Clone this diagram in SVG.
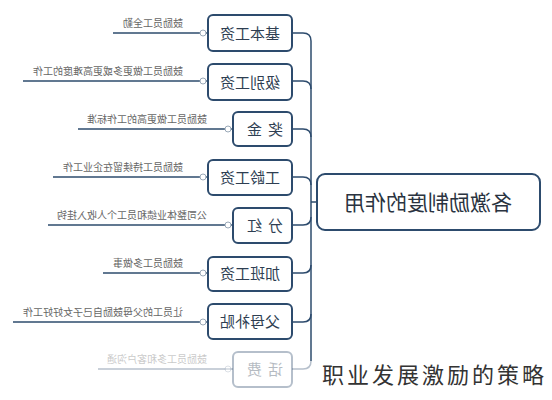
<svg xmlns="http://www.w3.org/2000/svg" width="552" height="400" viewBox="0 0 552 400">
<style>
.box{fill:#fff;stroke:#2d4b6d;stroke-width:2}
.bt{font-family:"Noto Sans CJK SC","Noto Sans",sans-serif;font-size:15px;fill:#2e3e52;text-anchor:middle}
.lt{font-family:"Noto Sans CJK SC","Noto Sans",sans-serif;font-size:10px;fill:#666}
.ln{fill:none;stroke:#2d4b6d;stroke-width:1.5}
.dot{fill:#fff;stroke:#9aa9b8;stroke-width:1}
.mt{font-family:"Noto Sans CJK SC","Noto Sans",sans-serif;font-size:21px;fill:#2a3340;text-anchor:middle}
.cap{font-family:"Noto Sans CJK SC","Noto Sans",sans-serif;font-size:22px;fill:#333;letter-spacing:3px}
</style>
<rect width="552" height="400" fill="#fff"/>
<g id="connectors">
<path class="ln" d="M311,41 V361"/>
<path class="ln" d="M311,202 H317"/>
<path class="ln" d="M292,33 H303 Q311,33 311,41"/>
<path class="ln" d="M292,81 H303 Q311,81 311,89"/>
<path class="ln" d="M292,129 H303 Q311,129 311,137"/>
<path class="ln" d="M292,177 H303 Q311,177 311,185"/>
<path class="ln" d="M292,225 H303 Q311,225 311,217"/>
<path class="ln" d="M292,273 H303 Q311,273 311,265"/>
<path class="ln" d="M292,322 H303 Q311,322 311,314"/>
<path class="ln" d="M292,369 H303 Q311,369 311,361" opacity="0.35"/>
<path class="ln" d="M113,33 H208"/>
<path class="ln" d="M23,81 H208"/>
<path class="ln" d="M78,129 H233"/>
<path class="ln" d="M53,177 H208"/>
<path class="ln" d="M48,225 H233"/>
<path class="ln" d="M103,273 H208"/>
<path class="ln" d="M13,322 H208"/>
<path class="ln" d="M98,369 H233" opacity="0.35"/>
<circle class="dot" cx="203" cy="33" r="3"/>
<circle class="dot" cx="203" cy="81" r="3"/>
<circle class="dot" cx="228" cy="129" r="3"/>
<circle class="dot" cx="203" cy="177" r="3"/>
<circle class="dot" cx="228" cy="225" r="3"/>
<circle class="dot" cx="203" cy="273" r="3"/>
<circle class="dot" cx="203" cy="322" r="3"/>
<circle class="dot" cx="228" cy="369" r="3" opacity="0.35"/>
</g>
<g id="main">
<rect class="box" x="317" y="174" width="223" height="56" rx="8"/>
<text class="mt" transform="translate(428,210) scale(-1,1)">各激励制度的作用</text>
</g>
<g id="n1">
<rect class="box" x="208" y="15" width="84" height="36" rx="5"/>
<text class="bt" transform="translate(250,38.5) scale(-1,1)">基本工资</text>
<text class="lt" transform="translate(183,27) scale(-1,1)">鼓励员工全勤</text>
</g>
<g id="n2">
<rect class="box" x="208" y="64" width="84" height="36" rx="5"/>
<text class="bt" transform="translate(250,87.5) scale(-1,1)">级别工资</text>
<text class="lt" transform="translate(183,75) scale(-1,1)">鼓励员工做更多或更高难度的工作</text>
</g>
<g id="n3">
<rect class="box" x="233" y="112" width="59" height="34" rx="5"/>
<text class="bt" transform="translate(262,134.5) scale(-1,1)" letter-spacing="6">奖金</text>
<text class="lt" transform="translate(207,123) scale(-1,1)">鼓励员工做更高的工作标准</text>
</g>
<g id="n4">
<rect class="box" x="208" y="160" width="84" height="35" rx="5"/>
<text class="bt" transform="translate(250,183) scale(-1,1)">工龄工资</text>
<text class="lt" transform="translate(183,171) scale(-1,1)">鼓励员工持续留在企业工作</text>
</g>
<g id="n5">
<rect class="box" x="233" y="208" width="59" height="35" rx="5"/>
<text class="bt" transform="translate(262,231) scale(-1,1)" letter-spacing="6">分红</text>
<text class="lt" transform="translate(207,219) scale(-1,1)">公司整体业绩和员工个人收入挂钩</text>
</g>
<g id="n6">
<rect class="box" x="208" y="257" width="84" height="34" rx="5"/>
<text class="bt" transform="translate(250,279) scale(-1,1)">加班工资</text>
<text class="lt" transform="translate(183,267) scale(-1,1)">鼓励员工多做事</text>
</g>
<g id="n7">
<rect class="box" x="208" y="304" width="84" height="35" rx="5"/>
<text class="bt" transform="translate(250,327) scale(-1,1)">父母补贴</text>
<text class="lt" transform="translate(183,316) scale(-1,1)">让员工的父母鼓励自己子女好好工作</text>
</g>
<g id="n8" opacity="0.35">
<rect class="box" x="233" y="352" width="59" height="35" rx="5"/>
<text class="bt" transform="translate(262,375) scale(-1,1)" letter-spacing="6">话费</text>
<text class="lt" transform="translate(207,363) scale(-1,1)">鼓励员工多和客户沟通</text>
</g>
<text class="cap" x="322" y="383">职业发展激励的策略</text>
</svg>
